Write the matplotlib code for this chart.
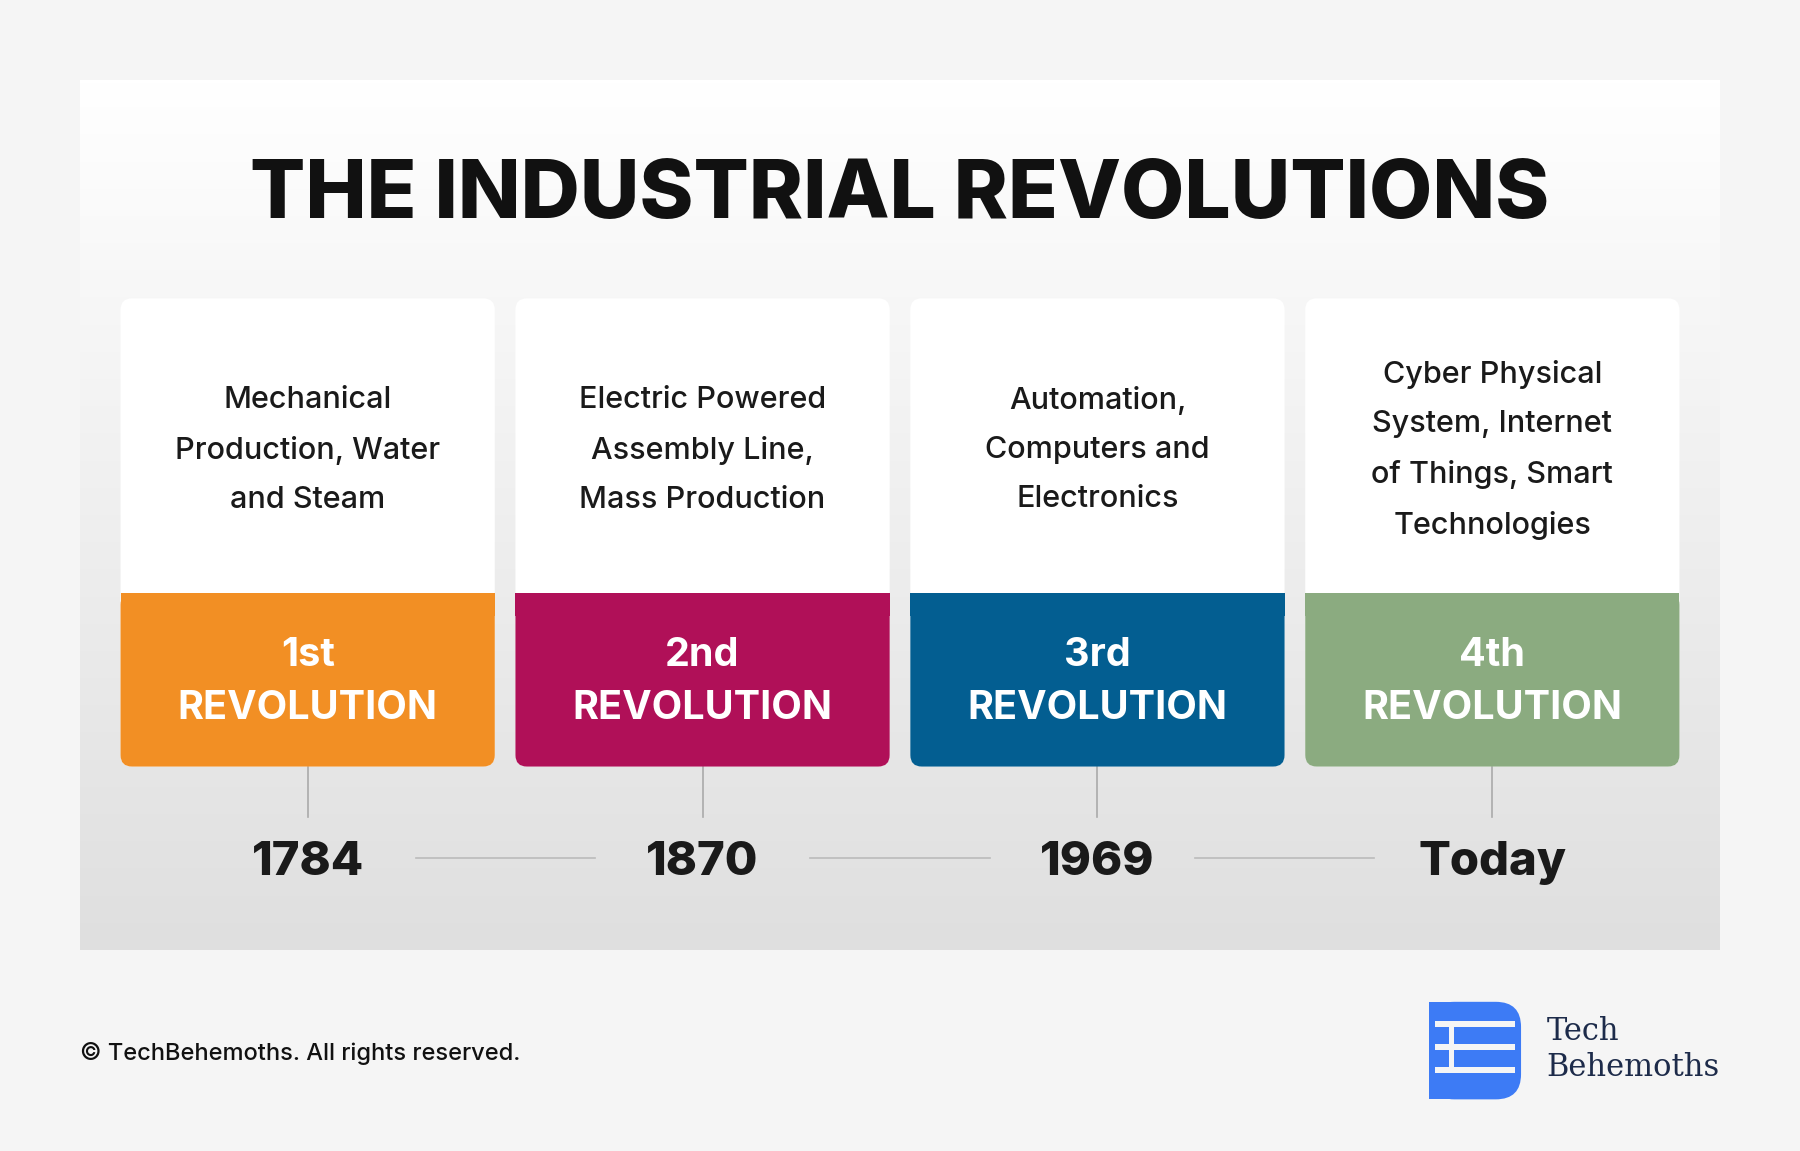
import matplotlib
matplotlib.use("Agg")
import matplotlib.pyplot as plt
from matplotlib.patches import FancyBboxPatch, Rectangle
import numpy as np

# data
ordinals = ["1st", "2nd", "3rd", "4th"]
years = ["1784", "1870", "1969", "Today"]
descriptions = [
    "Mechanical\nProduction, Water\nand Steam",
    "Electric Powered\nAssembly Line,\nMass Production",
    "Automation,\nComputers and\nElectronics",
    "Cyber Physical\nSystem, Internet\nof Things, Smart\nTechnologies",
]
colors = ["#f28f24", "#b01058", "#035e91", "#8bab80"]

W, H = 1568, 1003
fig = plt.figure(figsize=(18, 11.51), dpi=100)
fig.patch.set_facecolor("#f5f5f5")
ax = fig.add_axes([0, 0, 1, 1])
ax.set_xlim(0, W)
ax.set_ylim(H, 0)
ax.axis("off")

# gradient panel
grad = np.linspace(0, 1, 256).reshape(-1, 1)
ax.imshow(grad, extent=[70, 1498, 828, 70], cmap=matplotlib.colors.LinearSegmentedColormap.from_list("g", ["#ffffff", "#dfdfdf"]),
          aspect="auto", zorder=0)

ax.text(784, 172, "THE INDUSTRIAL REVOLUTIONS", ha="center", va="center",
        fontsize=59, fontweight="heavy", family="Inter", color="#111111")

left0, cw, gap = 105, 326, 18
line_spans = [(362, 518), (706, 862), (1041, 1197)]
for i in range(4):
    x0 = left0 + i * (cw + gap)
    cx = x0 + cw / 2
    ax.add_patch(FancyBboxPatch((x0, 260), cw, 408, boxstyle="round,pad=0,rounding_size=10",
                                fc="white", ec="none", zorder=1))
    ax.add_patch(FancyBboxPatch((x0, 517), cw, 151, boxstyle="round,pad=0,rounding_size=10",
                                fc=colors[i], ec="none", zorder=2))
    ax.add_patch(Rectangle((x0, 517), cw, 20, fc=colors[i], ec="none", zorder=2))
    ax.text(cx, 392, descriptions[i], ha="center", va="center", fontsize=22,
            fontweight="medium", family="Inter", color="#1a1a1a", linespacing=1.95, zorder=3)
    ax.text(cx, 571, ordinals[i], ha="center", va="center", fontsize=28.5,
            fontweight="bold", family="Inter", color="white", zorder=3)
    ax.text(cx, 617, "REVOLUTION", ha="center", va="center", fontsize=28.5,
            fontweight="bold", family="Inter", color="white", zorder=3)
    ax.plot([cx, cx], [668, 712], color="#aaaaaa", lw=1.2, zorder=1)
    ax.text(cx, 752, years[i], ha="center", va="center", fontsize=34,
            fontweight="heavy", family="Inter", color="#1a1a1a", zorder=3)
    if i < 3:
        ax.plot(line_spans[i], [748, 748], color="#bbbbbb", lw=1.2, zorder=1)

ax.text(70, 918, "© TechBehemoths. All rights reserved.", ha="left", va="center",
        fontsize=17, fontweight="medium", family="Inter", color="#111111")

# logo
blue = "#3d7bf5"
ax.add_patch(FancyBboxPatch((1245, 873), 80, 85, boxstyle="round,pad=0,rounding_size=22",
                            fc=blue, ec="none"))
ax.add_patch(Rectangle((1245, 873), 40, 85, fc=blue, ec="none"))
for y in (890, 910, 930):
    ax.add_patch(Rectangle((1250, y), 70, 5, fc="#f5f5f5", ec="none"))
ax.add_patch(Rectangle((1262, 895), 5, 35, fc="#f5f5f5", ec="none"))
ax.text(1347, 899, "Tech", ha="left", va="center", fontsize=22, family="DejaVu Serif", color="#1d2b4a")
ax.text(1347, 930, "Behemoths", ha="left", va="center", fontsize=22, family="DejaVu Serif", color="#1d2b4a")

fig.savefig("out.png", dpi=100, facecolor=fig.get_facecolor())
